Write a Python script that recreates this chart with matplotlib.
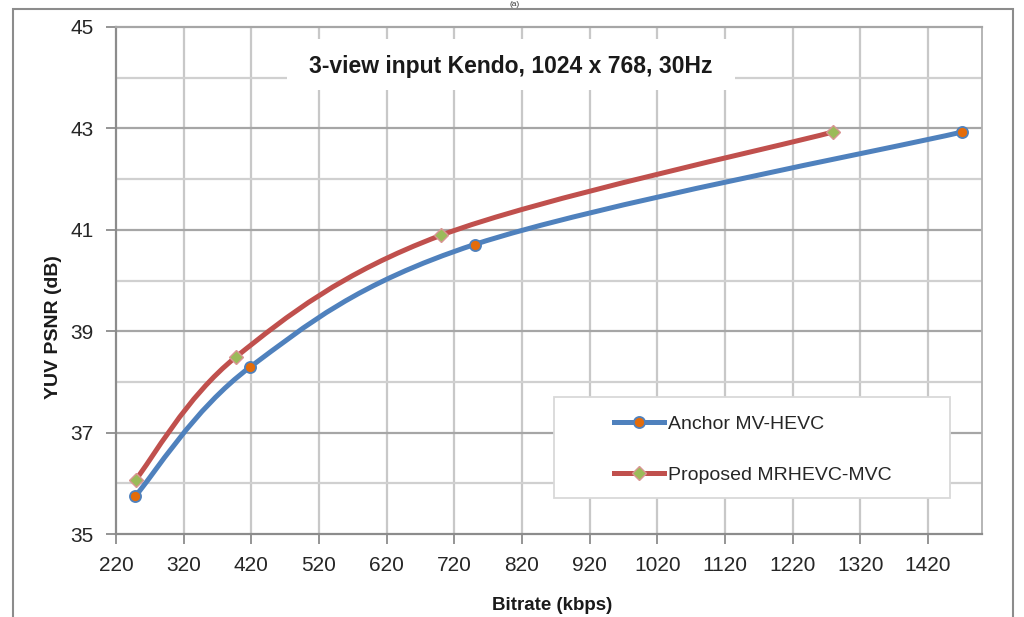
import numpy as np
import matplotlib
matplotlib.use('Agg')
import matplotlib.pyplot as plt
from matplotlib.path import Path
from matplotlib.patches import PathPatch, Rectangle
from matplotlib.lines import Line2D

# data
anchor_rate = [248, 418, 750, 1471]
anchor_psnr = [35.74, 38.29, 40.71, 42.93]
prop_rate = [249, 398, 700, 1280]
prop_psnr = [36.07, 38.50, 40.89, 42.93]

x_ticks = list(range(220, 1421, 100))
y_major = [35, 37, 39, 41, 43, 45]
y_minor = [36, 38, 40, 42, 44]

title = '3-view input Kendo, 1024 x 768, 30Hz'
labels = ['Anchor MV-HEVC', 'Proposed MRHEVC-MVC']

plt.rcParams['font.family'] = ['Liberation Sans', 'DejaVu Sans']

W, H = 1024, 617
fig = plt.figure(figsize=(W / 100, H / 100), dpi=100)
fig.patch.set_facecolor('white')


def fx(px):
    return px / W


def fy(py):
    return 1 - py / H


ax = fig.add_axes([fx(116), fy(534), fx(982 - 116), (534 - 27) / H])


# excel style smoothed line, bezier segments through the points
def smooth_path(xs, ys):
    P = np.column_stack([xs, ys]).astype(float)
    n = len(P)
    verts = [P[0]]
    codes = [Path.MOVETO]
    for i in range(n - 1):
        p0 = P[i - 1] if i > 0 else P[i]
        p1 = P[i]
        p2 = P[i + 1]
        p3 = P[i + 2] if i + 2 < n else P[i + 1]
        c1 = p1 + (p2 - p0) / 6
        c2 = p2 - (p3 - p1) / 6
        verts += [c1, c2, p2]
        codes += [Path.CURVE4] * 3
    return Path(verts, codes)


blue = '#4F81BD'
red = '#C0504D'
orange = '#E46C0A'
green = '#9BBB59'

ax.add_patch(PathPatch(smooth_path(anchor_rate, anchor_psnr), fill=False,
                       edgecolor=blue, lw=3.6, capstyle='round', zorder=3))
ax.add_patch(PathPatch(smooth_path(prop_rate, prop_psnr), fill=False,
                       edgecolor=red, lw=3.6, capstyle='round', zorder=3))
ax.plot(anchor_rate, anchor_psnr, ls='none', marker='o', ms=8,
        mfc=orange, mec=blue, mew=1.3, zorder=4)
ax.plot(prop_rate, prop_psnr, ls='none', marker='D', ms=7.5,
        mfc=green, mec='#D99694', mew=1.0, zorder=4)

ax.set_xlim(220, 1500)
ax.set_ylim(35, 45)
ax.set_xticks(x_ticks)
ax.set_yticks(y_major)
ax.set_yticks(y_minor, minor=True)

for x in x_ticks[1:]:
    ax.axvline(x, color='#C8C8C8', lw=1.6, zorder=1)
for y in y_major[1:-1]:
    ax.axhline(y, color='#A6A6A6', lw=1.6, zorder=1)
for y in y_minor:
    ax.axhline(y, color='#D0D0D0', lw=1.6, zorder=1)

for s in ['left', 'bottom']:
    ax.spines[s].set_color('#8C8C8C')
    ax.spines[s].set_linewidth(1.6)
ax.spines['top'].set_color('#A6A6A6')
ax.spines['top'].set_linewidth(1.6)
ax.spines['right'].set_color('#B0B0B0')
ax.spines['right'].set_linewidth(1.3)

ax.tick_params(axis='both', which='major', direction='out', length=7,
               width=1.3, color='#8C8C8C', labelsize=15, labelcolor='#262626')
ax.tick_params(axis='x', pad=9)
ax.tick_params(axis='y', pad=9)
ax.tick_params(axis='y', which='minor', length=0)

fig.text(fx(552), fy(605), 'Bitrate (kbps)', ha='center', va='center',
         fontsize=13.5, fontweight='bold', color='#1a1a1a')
fig.text(fx(54), fy(327), 'YUV PSNR (dB)', ha='center', va='center',
         rotation=90, fontsize=14, fontweight='bold', color='#1a1a1a')

# title box over the grid
fig.patches.append(Rectangle((fx(287), fy(90)), fx(735 - 287), (90 - 39) / H,
                             transform=fig.transFigure, facecolor='white',
                             edgecolor='none', zorder=5))
fig.text(fx(511), fy(66), title, ha='center', va='center', fontsize=16.5,
         fontweight='bold', color='#1a1a1a', zorder=6)

# legend box
ax.add_patch(Rectangle((fx(554), fy(498)), fx(950 - 554), (498 - 397) / H,
                       transform=fig.transFigure, facecolor='white',
                       edgecolor='#D9D9D9', lw=1.3, zorder=5))
handles = [
    Line2D([], [], color=blue, lw=3.6, marker='o', ms=8, mfc=orange,
           mec=blue, mew=1.3),
    Line2D([], [], color=red, lw=3.6, marker='D', ms=7.5, mfc=green,
           mec='#D99694', mew=1.0),
]
leg = fig.legend(handles, labels, loc='upper left',
                 bbox_to_anchor=(fx(598), fy(400)), frameon=False,
                 fontsize=14, handlelength=2.6, handletextpad=0.2,
                 labelspacing=1.7, borderpad=0.3)
leg.set_zorder(7)
for t in leg.get_texts():
    t.set_color('#262626')

# outer chart border and caption above it
fig.patches.append(Rectangle((fx(13), -0.05), fx(1013 - 13), 0.05 + fy(9),
                             transform=fig.transFigure, facecolor='none',
                             edgecolor='#8C8C8C', lw=1.5))
fig.text(fx(515), fy(4), '(a)', ha='center', va='center', fontsize=6,
         color='#333333')

fig.savefig('out.png', dpi=100)
